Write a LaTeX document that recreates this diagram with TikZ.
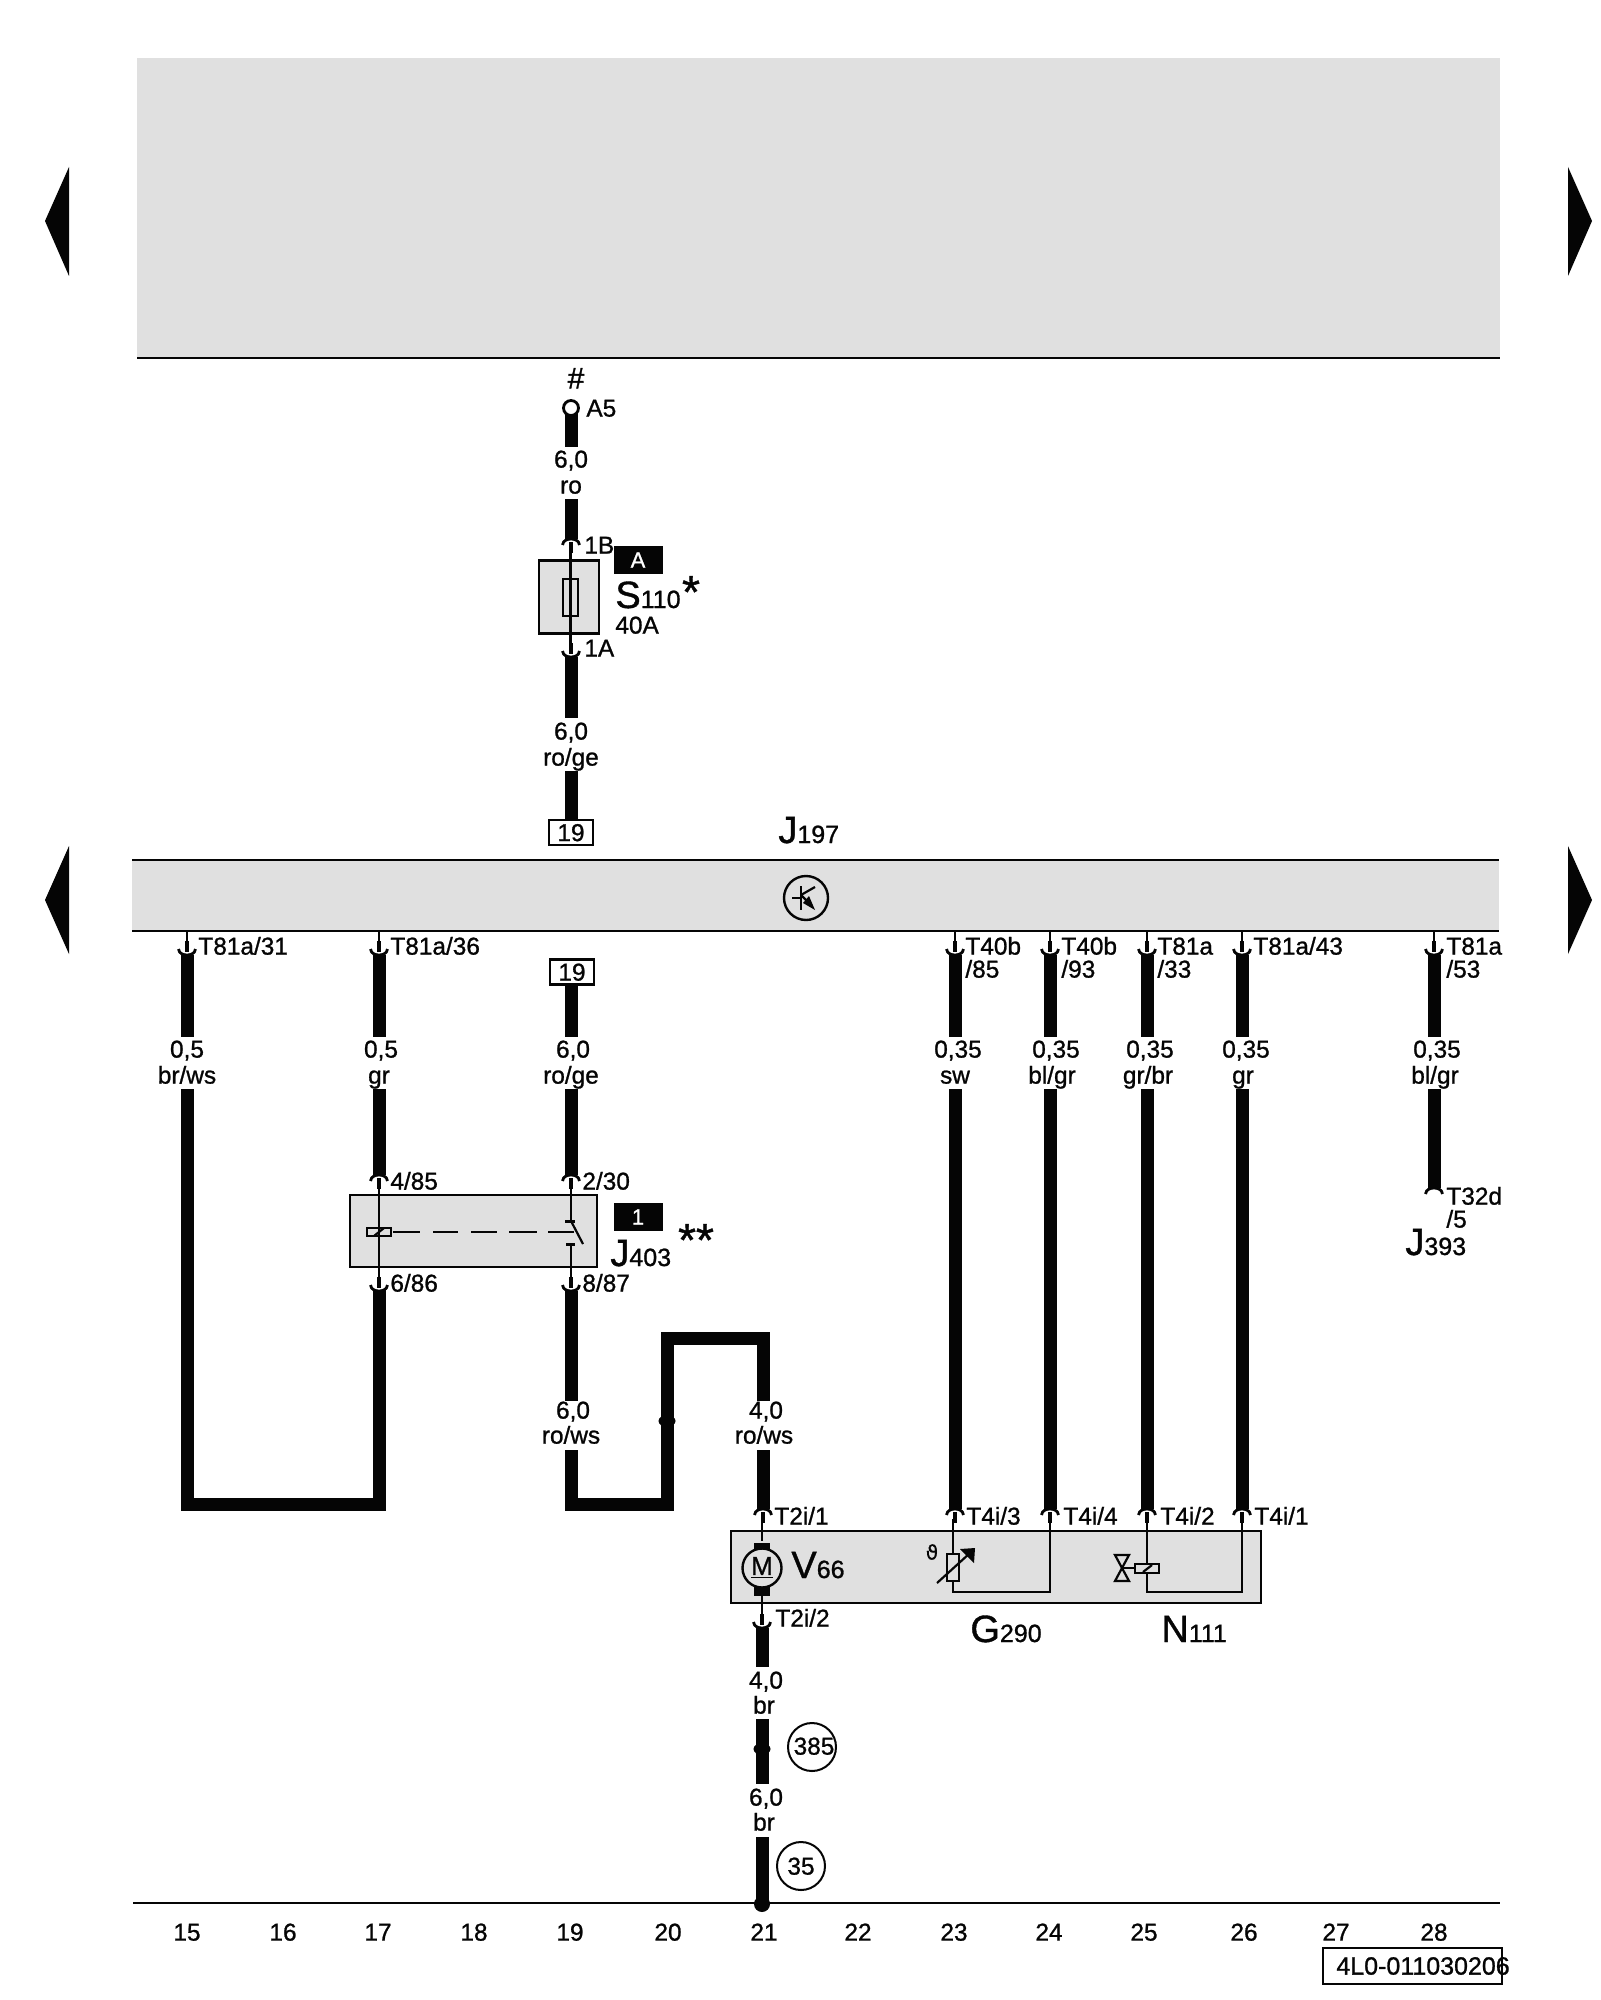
\documentclass[tikz,border=0pt]{standalone}
\usepackage{fontspec}
\setmainfont{Liberation Sans}[FakeBold=1]
\newfontfamily\symfont{DejaVu Sans}[FakeBold=0.5]
\definecolor{panel}{HTML}{E0E0E0}
\definecolor{ink}{HTML}{050505}
\tikzset{
  wire/.style={ink,line width=6.5pt,line cap=butt},
  thin/.style={ink,line width=1.1pt},
  frame/.style={ink,line width=1.1pt,fill=panel},
  lab/.style={ink,font=\fontsize{12.2}{14}\selectfont,inner sep=0pt,text height=8.6pt,text depth=0pt,anchor=center},
  pinlab/.style={lab,anchor=west},
  big/.style={ink,font=\fontsize{19}{20}\selectfont,inner sep=0pt,anchor=base west},
  tagbox/.style={fill=ink,text=white,draw=ink,font=\fontsize{11}{13}\selectfont,inner sep=0pt,minimum width=24pt,minimum height=13.5pt},
  refbox/.style={lab,draw=ink,line width=1.2pt,minimum width=22pt,minimum height=12.5pt},
  refcirc/.style={lab,draw=ink,line width=1pt,circle,minimum size=24pt},
  plugcap/.pic={
    \draw[ink,line width=1.4pt] (-8.5,6) .. controls (-8,1) and (-3,0) .. (0,0) .. controls (3,0) and (8,1) .. (8.5,6);
    \fill[ink] (-6,-0.5) rectangle (6,1);
    \fill[ink] (-2.2,3) rectangle (2.2,14);
  },
  endcap/.pic={
    \draw[ink,line width=1.4pt] (-8.5,6) .. controls (-8,1) and (-3,0) .. (0,0) .. controls (3,0) and (8,1) .. (8.5,6);
    \fill[ink] (-6,-0.5) rectangle (6,1);
  }
}
\newcommand{\bigsub}[2]{#1{\fontsize{12.5}{14}\selectfont #2}}
\begin{document}
\begin{tikzpicture}[x=0.5pt,y=-0.5pt]
\useasboundingbox (0,0) rectangle (1600,2000);
\fill[white] (0,0) rectangle (1600,2000);
% top panel
\fill[panel] (137,58) rectangle (1500,358);
\draw[thin] (137,358) -- (1500,358);
% page arrows
\fill[ink] (45,221) -- (69,167) -- (69,276) -- cycle;
\fill[ink] (1592,221) -- (1568,167) -- (1568,276) -- cycle;
\fill[ink] (45,900) -- (69,846) -- (69,954) -- cycle;
\fill[ink] (1592,900) -- (1568,846) -- (1568,954) -- cycle;
% J197 bar
\fill[panel] (132,860) rectangle (1499,931);
\draw[thin] (132,860) -- (1499,860);
\draw[thin] (132,931) -- (1499,931);
\node[draw=ink,line width=1.2pt,circle,minimum size=22pt,inner sep=0pt] (tr) at (806,898) {};
\draw[ink,line width=1.1pt] (792,898) -- (801,898);
\draw[ink,line width=1.3pt] (801,886) -- (801,910);
\draw[ink,line width=1.1pt] (801,895) -- (815,887);
\draw[ink,line width=1.1pt] (801,895) -- (810,904);
\fill[ink] (815,910) -- (803,903) -- (809,896) -- cycle;
\node[big] (j197) at (778,843) {\bigsub{J}{197}};
% A5 column
\coordinate (a5) at (571,408);
\coordinate (a5b) at (571,447);
\coordinate (s1t) at (571,499);
\coordinate (s1b) at (571,539);
\draw[wire] (a5) -- (a5b);
\draw[wire] (s1t) -- (s1b);
\node[draw=ink,line width=1.4pt,fill=white,circle,minimum size=7.5pt,inner sep=0pt] (a5c) at (571,408) {};
\node[lab] (hash) at (576,380) {\fontsize{15}{16}\selectfont\#};
\node[pinlab] (a5l) at (586,408) {A5};
\node[lab] at (571,459) {6,0};
\node[lab] at (571,485) {ro};
\pic at (571,539) {plugcap};
\node[draw=ink,line width=1.1pt,fill=panel,minimum width=30pt,minimum height=36.5pt,inner sep=0pt] (s110) at (569,597) {};
\draw[thin] (570.5,550) -- (570.5,645);
\draw[ink,line width=1.1pt] (563,579) rectangle (578,616);
\pic[yscale=-1] at (571,657) {plugcap};
\node[pinlab] (l1b) at (584,545) {1B};
\node[pinlab] (l1a) at (584,648) {1A};
\node[tagbox] (tagA) at (638,560) {A};
\node[big] (s110l) at (615,608) {\bigsub{S}{110}};
\node[ink,font=\fontsize{23}{24}\selectfont,inner sep=0pt,anchor=center] (s110s) at (691,592) {*};
\node[pinlab] (l40a) at (615,625) {40A};
\coordinate (w2a) at (571,657);
\coordinate (w2b) at (571,718);
\coordinate (w2c) at (571,771);
\coordinate (w2d) at (571,821);
\draw[wire] (w2a) -- (w2b);
\draw[wire] (w2c) -- (w2d);
\node[lab] at (571,731) {6,0};
\node[lab] at (571,757) {ro/ge};
\node[refbox] (r19a) at (571,832.5) {19};
% terminals below bar
\foreach \xx/\nn in {187/a,379/b,955/c,1050/d,1147/e,1242/f,1434/g}{
  \coordinate (t\nn) at (\xx,931);
  \draw[thin] (\xx,931) -- (\xx,945);
  \pic[yscale=-1] at (\xx,955) {plugcap};
}
\node[pinlab] at (198,946) {T81a/31};
\node[pinlab] at (390,946) {T81a/36};
\node[pinlab] at (965,946) {T40b};
\node[pinlab] at (965,969) {/85};
\node[pinlab] at (1061,946) {T40b};
\node[pinlab] at (1061,969) {/93};
\node[pinlab] at (1157,946) {T81a};
\node[pinlab] at (1157,969) {/33};
\node[pinlab] at (1253,946) {T81a/43};
\node[pinlab] at (1446,946) {T81a};
\node[pinlab] at (1446,969) {/53};
% wire 15-17
\coordinate (p1) at (187,955);
\coordinate (p2) at (187,1037);
\coordinate (p3) at (187,1089);
\coordinate (p4) at (187,1504);
\coordinate (p5) at (379,1504);
\coordinate (p6) at (379,1290);
\draw[wire] (p1) -- (p2);
\draw[wire,line join=miter] (p3) -- (p4) -- (p5) -- (p6);
\node[lab] at (187,1049) {0,5};
\node[lab] at (187,1075) {br/ws};
\coordinate (q1) at (379,955);
\coordinate (q2) at (379,1037);
\coordinate (q3) at (379,1089);
\coordinate (q4) at (379,1175);
\draw[wire] (q1) -- (q2);
\draw[wire] (q3) -- (q4);
\node[lab] at (381,1049) {0,5};
\node[lab] at (379,1075) {gr};
% 19 lower column
\node[refbox] (r19b) at (572,972) {19};
\coordinate (u1) at (571,985);
\coordinate (u2) at (571,1037);
\coordinate (u3) at (571,1089);
\coordinate (u4) at (571,1175);
\draw[wire] (u1) -- (u2);
\draw[wire] (u3) -- (u4);
\node[lab] at (573,1049) {6,0};
\node[lab] at (571,1075) {ro/ge};
% relay
\node[draw=ink,line width=1.1pt,fill=panel,minimum width=123.5pt,minimum height=36pt,inner sep=0pt] (j403) at (473.5,1231) {};
\pic at (379,1175) {plugcap};
\pic at (571,1175) {plugcap};
\pic[yscale=-1] at (379,1291) {plugcap};
\pic[yscale=-1] at (571,1291) {plugcap};
\draw[thin] (379,1185) -- (379,1280);
\draw[thin] (571,1185) -- (571,1221);
\draw[thin] (571,1244) -- (571,1280);
\draw[ink,line width=1.1pt] (367,1228) rectangle (391,1236);
\draw[ink,line width=1.1pt] (374,1236) -- (384,1228);
\draw[ink,line width=1.1pt] (393,1232) -- (420,1232) (433,1232) -- (458,1232) (471,1232) -- (497,1232) (509,1232) -- (537,1232) (548,1232) -- (574,1232);
\draw[ink,line width=1.5pt] (565,1221) -- (575,1221);
\draw[ink,line width=1.5pt] (566,1244) -- (575,1244);
\draw[ink,line width=1.1pt] (571,1221) -- (583,1244);
\node[pinlab] at (390,1181) {4/85};
\node[pinlab] at (582,1181) {2/30};
\node[pinlab] at (390,1283) {6/86};
\node[pinlab] at (582,1283) {8/87};
\node[tagbox] (tag1) at (638,1217) {1};
\node[ink,font=\fontsize{23}{24}\selectfont,inner sep=0pt,anchor=center] at (696,1240) {**};
\node[big] (j403l) at (610,1266) {\bigsub{J}{403}};
% jump wire
\coordinate (v1) at (571,1291);
\coordinate (v2) at (571,1401);
\coordinate (v3) at (571,1450);
\coordinate (v4) at (571,1504);
\coordinate (v5) at (667,1504);
\coordinate (v6) at (667,1338);
\coordinate (v7) at (763,1338);
\coordinate (v8) at (763,1401);
\coordinate (v9) at (763,1450);
\coordinate (v10) at (763,1509);
\draw[wire] (v1) -- (v2);
\draw[wire,line join=miter] (v3) -- (v4) -- (v5) -- (v6) -- (v7) -- (v8);
\draw[wire] (v9) -- (v10);
\fill[ink] (667,1421) ellipse (8.5 and 6);
\node[lab] at (573,1410) {6,0};
\node[lab] at (571,1435) {ro/ws};
\node[lab] at (766,1410) {4,0};
\node[lab] at (764,1435) {ro/ws};
% long wires
\foreach \xx/\nn in {955/c,1050/d,1147/e,1242/f}{
  \coordinate (x\nn a) at (\xx,955);
  \coordinate (x\nn b) at (\xx,1037);
  \coordinate (x\nn c) at (\xx,1089);
  \coordinate (x\nn d) at (\xx,1509);
  \draw[wire] (x\nn a) -- (x\nn b);
  \draw[wire] (x\nn c) -- (x\nn d);
}
\node[lab] at (958,1049) {0,35};
\node[lab] at (955,1075) {sw};
\node[lab] at (1056,1049) {0,35};
\node[lab] at (1052,1075) {bl/gr};
\node[lab] at (1150,1049) {0,35};
\node[lab] at (1148,1075) {gr/br};
\node[lab] at (1246,1049) {0,35};
\node[lab] at (1243,1075) {gr};
% J393 wire
\coordinate (y1) at (1434,955);
\coordinate (y2) at (1434,1037);
\coordinate (y3) at (1434,1089);
\coordinate (y4) at (1434,1188);
\draw[wire] (y1) -- (y2);
\draw[wire] (y3) -- (y4);
\pic at (1434,1188) {endcap};
\node[pinlab] at (1446,1196) {T32d};
\node[pinlab] at (1446,1219) {/5};
\node[lab] at (1437,1049) {0,35};
\node[lab] at (1435,1075) {bl/gr};
\node[big] (j393l) at (1405,1255) {\bigsub{J}{393}};
% lower box
\node[draw=ink,line width=1.1pt,fill=panel,minimum width=265pt,minimum height=36pt,inner sep=0pt] (unit) at (996,1567) {};
\foreach \xx in {763,955,1050,1147,1242}{ \pic at (\xx,1509) {plugcap}; }
\draw[thin] (762,1519) -- (762,1541);
\draw[thin] (762,1594) -- (762,1615);
\fill[ink] (754,1543) rectangle (770,1551);
\fill[ink] (754,1587) rectangle (770,1596);
\node[draw=ink,line width=1.2pt,fill=panel,circle,minimum size=19.5pt,inner sep=0pt,font=\fontsize{13}{14}\selectfont,text=ink] (m) at (762,1568) {\underline{M}};
\pic[yscale=-1] at (762,1628) {plugcap};
\node[pinlab] at (774,1516) {T2i/1};
\node[pinlab] at (775,1618) {T2i/2};
\node[pinlab] at (966,1516) {T4i/3};
\node[pinlab] at (1063,1516) {T4i/4};
\node[pinlab] at (1160,1516) {T4i/2};
\node[pinlab] at (1254,1516) {T4i/1};
\node[big] (v66) at (791,1578) {\bigsub{V}{66}};
\node[big] (g290) at (970,1642) {\bigsub{G}{290}};
\node[big] (n111) at (1161,1642) {\bigsub{N}{111}};
% sensor
\draw[thin] (953,1519) -- (953,1592) -- (1050,1592) -- (1050,1519);
\draw[ink,line width=1.1pt,fill=panel] (947,1554) rectangle (959,1581);
\draw[ink,line width=1.1pt] (937,1583) -- (970,1553);
\fill[ink] (975,1548) -- (960,1549) -- (974,1563) -- cycle;
\node[ink,font=\symfont\fontsize{10}{11}\selectfont,inner sep=0pt] (theta) at (932,1552) {ϑ};
% valve
\draw[thin] (1147,1519) -- (1147,1592) -- (1242,1592) -- (1242,1519);
\draw[ink,line width=1.1pt] (1115,1555) -- (1129,1555) -- (1115,1581) -- (1129,1581) -- cycle;
\draw[ink,line width=1.1pt] (1122,1568) -- (1135,1568);
\draw[ink,line width=1.1pt,fill=panel] (1135,1564) rectangle (1159,1573);
\draw[ink,line width=1.1pt] (1143,1572) -- (1152,1565);
% bottom wire
\coordinate (z1) at (762,1628);
\coordinate (z2) at (762,1667);
\coordinate (z3) at (762,1719);
\coordinate (z4) at (762,1784);
\coordinate (z5) at (762,1837);
\coordinate (z6) at (762,1903);
\draw[wire] (z1) -- (z2);
\draw[wire] (z3) -- (z4);
\draw[wire] (z5) -- (z6);
\fill[ink] (762,1749) ellipse (8.5 and 6);
\node[lab] at (766,1680) {4,0};
\node[lab] at (764,1705) {br};
\node[lab] at (766,1797) {6,0};
\node[lab] at (764,1822) {br};
\node[refcirc] (c385) at (812,1747) {};
\node[lab] at (814,1746) {385};
\node[refcirc] (c35) at (801,1866) {35};
% ground line
\draw[thin] (133,1903) -- (1500,1903);
\fill[ink] (762,1904) circle (8);
\foreach \xx/\nn in {187/15,283/16,378/17,474/18,570/19,668/20,764/21,858/22,954/23,1049/24,1144/25,1244/26,1336/27,1434/28}{
  \node[lab] at (\xx,1932) {\nn};
}
% doc number
\node[draw=ink,line width=1.1pt,minimum width=89.5pt,minimum height=18pt,inner sep=0pt] (docbox) at (1412.5,1966) {};
\node[lab,anchor=west,font=\fontsize{12.5}{14}\selectfont] at (1336,1966) {4L0-011030206};
\end{tikzpicture}
\end{document}
